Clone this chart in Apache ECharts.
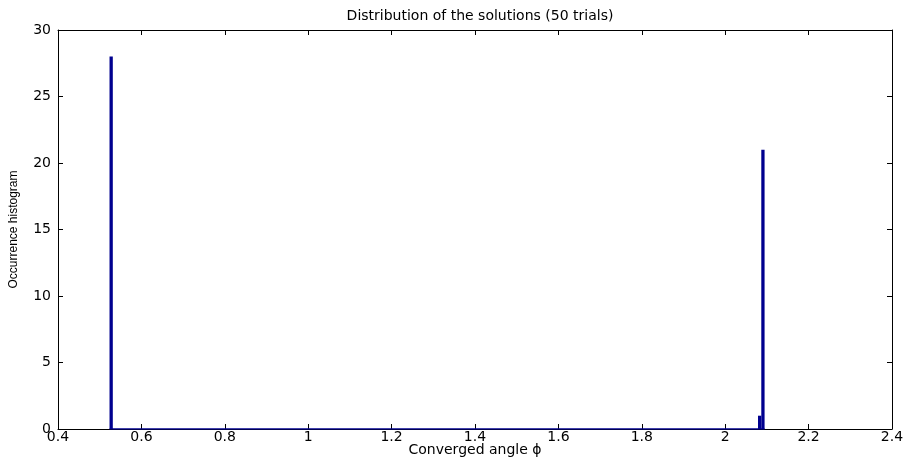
<!DOCTYPE html>
<html>
<head>
<meta charset="utf-8">
<script src="https://cdn.jsdelivr.net/npm/echarts@6/dist/echarts.min.js"></script>
<style>
  html, body { margin: 0; padding: 0; background: #fff; }
  #chart { width: 903px; height: 457px; }
</style>
</head>
<body>
<div id="chart"></div>
<script>
// histogram of converged angle, only the non-empty bins are listed
const binCenters = [0.5275, 2.0826, 2.0905];
const counts = [28, 1, 21];
const binWidth = 0.0079;
// empty bins between first and last edge show as a flat line at 0
const histRange = [0.5236, 2.0944];
const xTicks = { min: 0.4, max: 2.4, step: 0.2 };
const yTicks = { min: 0, max: 30, step: 5 };

const barData = binCenters.map((c, i) => [c, counts[i]]);
const baseData = histRange.map(x => [x, 0]);

const font = "DejaVu Sans, sans-serif";
const dom = document.getElementById("chart");
const chart = echarts.init(dom, null, { renderer: "canvas" });

const tickStyle = { show: true, inside: true, length: 5, lineStyle: { color: "#000", width: 1 } };
const lineStyle = { show: true, onZero: false, lineStyle: { color: "#000", width: 1 } };

const options = {
  backgroundColor: "#fff",
  animation: false,
  title: {
    text: "Distribution of the solutions (50 trials)",
    left: 475,
    top: 4,
    textAlign: "center",
    textStyle: { fontFamily: font, fontSize: 14, fontWeight: "normal", color: "#000" }
  },
  grid: { left: 58, right: 11, top: 30, bottom: 28, outerBoundsMode: "none", containLabel: false },
  xAxis: [
    {
      type: "value",
      min: xTicks.min,
      max: xTicks.max,
      interval: xTicks.step,
      name: "Converged angle \u03d5",
      nameLocation: "middle",
      nameGap: 14,
      nameMoveOverlap: false,
      nameTextStyle: { fontFamily: font, fontSize: 14, color: "#000" },
      axisLine: lineStyle,
      axisTick: tickStyle,
      splitLine: { show: false },
      axisLabel: { fontFamily: font, fontSize: 14, color: "#000", margin: 1 }
    },
    {
      type: "value",
      position: "top",
      min: xTicks.min,
      max: xTicks.max,
      interval: xTicks.step,
      axisLine: lineStyle,
      axisTick: tickStyle,
      splitLine: { show: false },
      axisLabel: { show: false }
    }
  ],
  yAxis: [
    {
      type: "value",
      min: yTicks.min,
      max: yTicks.max,
      interval: yTicks.step,
      name: "Occurrence histogram",
      nameLocation: "middle",
      nameRotate: 90,
      nameGap: 38,
      nameMoveOverlap: false,
      nameTextStyle: { fontFamily: "Liberation Sans, Arial, sans-serif", fontSize: 12, color: "#000" },
      axisLine: lineStyle,
      axisTick: tickStyle,
      splitLine: { show: false },
      axisLabel: { fontFamily: font, fontSize: 14, color: "#000", margin: 7 }
    },
    {
      type: "value",
      position: "right",
      min: yTicks.min,
      max: yTicks.max,
      interval: yTicks.step,
      axisLine: lineStyle,
      axisTick: tickStyle,
      splitLine: { show: false },
      axisLabel: { show: false }
    }
  ],
  series: [
    {
      type: "line",
      data: baseData,
      symbol: "none",
      lineStyle: { color: "#00008f", width: 1.5 },
      z: 3
    },
    {
      type: "custom",
      data: barData,
      renderItem: function (params, api) {
        const x = api.value(0);
        const y = api.value(1);
        const p0 = api.coord([x - binWidth / 2, y]);
        const p1 = api.coord([x + binWidth / 2, 0]);
        return {
          type: "rect",
          shape: { x: p0[0], y: p0[1], width: p1[0] - p0[0], height: p1[1] - p0[1] },
          style: { fill: "#00008f" }
        };
      },
      z: 4
    }
  ]
};
chart.setOption(options);
</script>
</body>
</html>
